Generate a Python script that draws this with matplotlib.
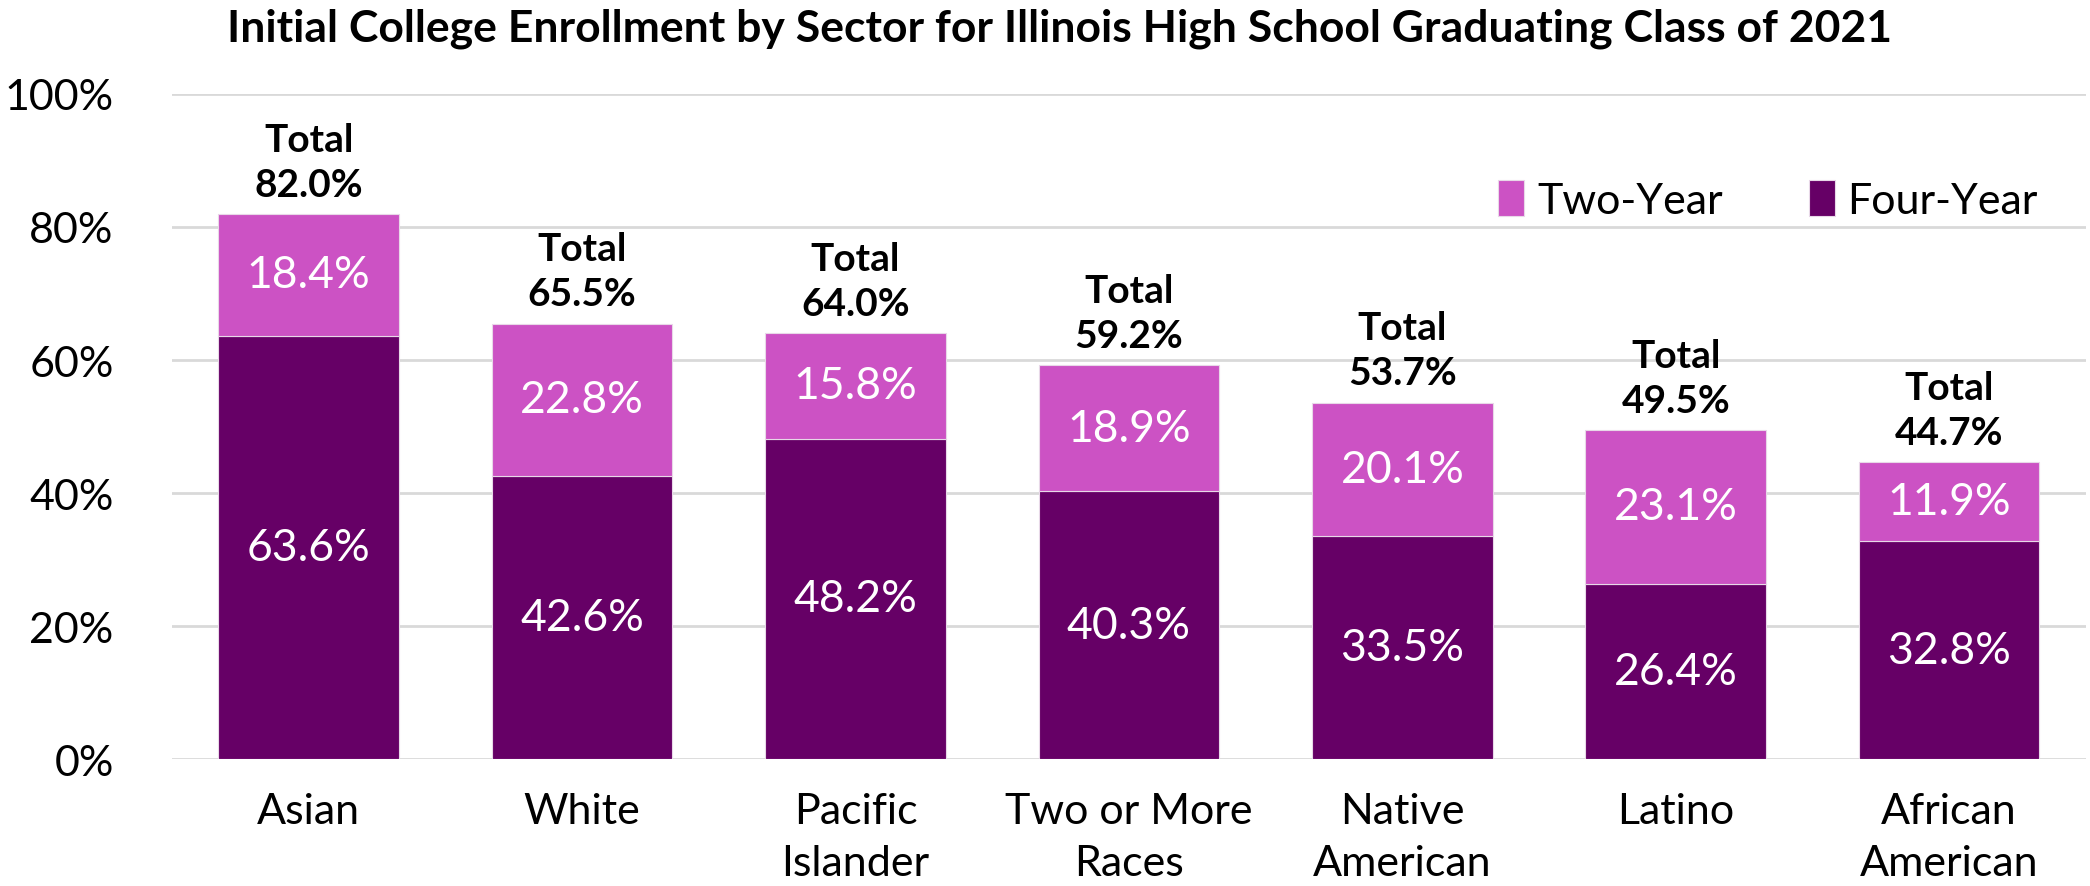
import matplotlib
matplotlib.use('Agg')
import matplotlib.pyplot as plt
import numpy as np

groups = ['Asian', 'White', 'Pacific\nIslander', 'Two or More\nRaces',
          'Native\nAmerican', 'Latino', 'African\nAmerican']
four_year = [63.6, 42.6, 48.2, 40.3, 33.5, 26.4, 32.8]
two_year = [18.4, 22.8, 15.8, 18.9, 20.1, 23.1, 11.9]
totals = [82.0, 65.5, 64.0, 59.2, 53.7, 49.5, 44.7]
yticks = [0, 20, 40, 60, 80, 100]

c_four = '#660066'
c_two = '#CC52C4'

plt.rcParams['font.family'] = ['Lato', 'DejaVu Sans']

fig = plt.figure(figsize=(20.9, 8.87), dpi=100)
ax = fig.add_axes([0.0823, 0.143, 0.9157, 0.750])

x = np.arange(len(groups))
w = 0.66
b1 = ax.bar(x, four_year, w, color=c_four, label='Four-Year', zorder=3,
            edgecolor='#e8d8e8', linewidth=0.8)
b2 = ax.bar(x, two_year, w, bottom=four_year, color=c_two, label='Two-Year',
            zorder=3, edgecolor='#e8d8e8', linewidth=0.8)

for i in range(len(groups)):
    ax.text(x[i], four_year[i] / 2, f'{four_year[i]:.1f}%', ha='center', va='center',
            color='white', fontsize=32, zorder=4)
    ax.text(x[i], four_year[i] + two_year[i] / 2, f'{two_year[i]:.1f}%', ha='center',
            va='center', color='white', fontsize=32, zorder=4)
    ax.text(x[i], totals[i] + 1.8, f'Total\n{totals[i]:.1f}%', ha='center', va='bottom',
            fontsize=28, fontweight='bold', linespacing=1.35, zorder=4)

ax.set_ylim(0, 100)
ax.set_xlim(-0.5, len(groups) - 0.5)
ax.set_yticks(yticks)
ax.set_yticklabels([f'{v}%' for v in yticks], fontsize=31)
ax.set_xticks(x)
ax.set_xticklabels(groups, fontsize=31, linespacing=1.45)
ax.tick_params(axis='both', length=0)
ax.tick_params(axis='y', pad=42)
ax.tick_params(axis='x', pad=24)
ax.grid(axis='y', color='#d9d9d9', linewidth=2, zorder=0)
for s in ax.spines.values():
    s.set_visible(False)

handles = [b2, b1]
ax.legend(handles, ['Two-Year', 'Four-Year'], loc='center right', bbox_to_anchor=(0.984, 0.84),
          ncol=2, frameon=False, fontsize=31, handlelength=0.6, handleheight=0.9,
          handletextpad=0.3, columnspacing=2.0, borderaxespad=0)

fig.text(0.507, 0.968, 'Initial College Enrollment by Sector for Illinois High School Graduating Class of 2021',
         ha='center', va='center', fontsize=32, fontweight='bold')

fig.savefig('out.png', dpi=100)
